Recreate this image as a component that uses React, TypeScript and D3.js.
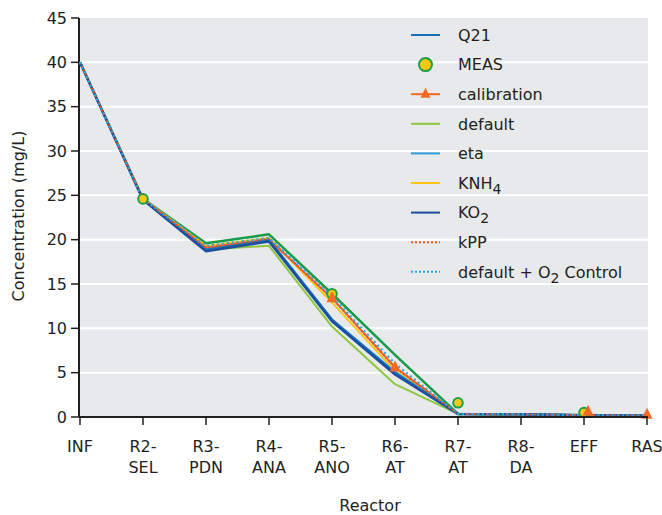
import React from "react";
import * as d3 from "d3";

const categories = ["INF", "R2-SEL", "R3-PDN", "R4-ANA", "R5-ANO", "R6-AT", "R7-AT", "R8-DA", "EFF", "RAS"];
const yTicks = [0, 5, 10, 15, 20, 25, 30, 35, 40, 45];

const upperLine = [40, 24.6, 19.6, 20.6, 13.9, 7.0, 0.35, 0.3, 0.2, 0.15];
const q21 = [40, 24.5, 18.9, 20.0, 11.0, 5.0, 0.35, 0.3, 0.2, 0.15];
const calibration = [40, 24.6, 19.1, 20.0, 13.4, 5.6, 0.35, 0.3, 0.2, 0.15];
const calibrationMarkers = [null, null, null, null, 13.5, 5.7, null, null, 0.7, 0.35];
const defaultS = [40, 24.6, 18.9, 19.3, 10.2, 3.7, 0.35, 0.3, 0.2, 0.15];
const eta = [40, 24.5, 18.9, 20.0, 11.0, 5.1, 0.35, 0.3, 0.2, 0.15];
const knh4 = [40, 24.6, 19.3, 20.2, 12.9, 5.2, 0.35, 0.3, 0.2, 0.15];
const ko2 = [40, 24.5, 18.7, 19.8, 10.8, 4.8, 0.35, 0.3, 0.2, 0.15];
const kpp = [40, 24.6, 19.1, 20.1, 13.4, 5.6, 0.35, 0.3, 0.2, 0.15];
const defaultO2 = [40, 24.6, 19.3, 20.2, 13.6, 6.0, 0.35, 0.3, 0.2, 0.15];
const meas = [null, 24.6, null, null, 13.9, null, 1.6, null, 0.5, null];

const W = 662, H = 515;
const left = 79, right = 648, top = 18, bottom = 417;
const FONT = "'DejaVu Sans', sans-serif";
const TXT = "#231f20";

type Series = { name: string; data: (number | null)[]; color: string; width: number; dash?: string };

export default function App() {
  const x = d3.scalePoint<string>().domain(categories).range([80, 647]);
  const y = d3.scaleLinear().domain([0, 45]).range([bottom, top]);
  const line = d3
    .line<number | null>()
    .defined((d) => d != null)
    .x((_, i) => x(categories[i]) as number)
    .y((d) => y(d as number));

  const series: Series[] = [
    { name: "default", data: defaultS, color: "#8dc63f", width: 2 },
    { name: "upper", data: upperLine, color: "#1a9b4b", width: 2.5 },
    { name: "KNH4", data: knh4, color: "#fdc315", width: 2 },
    { name: "calibration", data: calibration, color: "#f26a21", width: 2 },
    { name: "eta", data: eta, color: "#27a0d9", width: 2 },
    { name: "Q21", data: q21, color: "#1b70b8", width: 2 },
    { name: "KO2", data: ko2, color: "#1c4f9e", width: 2.5 },
    { name: "kPP", data: kpp, color: "#ef4f23", width: 2, dash: "2,2" },
    { name: "defaultO2", data: defaultO2, color: "#29a8e0", width: 2.2, dash: "2,3" },
  ];

  const legendY0 = 35, legendStep = 29.6;
  const lx1 = 411, lx2 = 440, tx = 458;
  const legendItems: { kind: string; color: string; dash?: string; label: React.ReactNode }[] = [
    { kind: "line", color: "#1b70b8", label: "Q21" },
    { kind: "circle", color: "#fcc616", label: "MEAS" },
    { kind: "tri", color: "#f26a21", label: "calibration" },
    { kind: "line", color: "#8dc63f", label: "default" },
    { kind: "line", color: "#27a0d9", label: "eta" },
    { kind: "line", color: "#fdc315", label: <>KNH<tspan dy="5" fontSize="14">4</tspan></> },
    { kind: "line", color: "#1c4f9e", label: <>KO<tspan dy="5" fontSize="14">2</tspan></> },
    { kind: "line", color: "#ef4f23", dash: "2,2", label: "kPP" },
    { kind: "line", color: "#29a8e0", dash: "2,2", label: <>default + O<tspan dy="5" fontSize="14">2</tspan><tspan dy="-5"> Control</tspan></> },
  ];

  const tri = (cx: number, cy: number, s = 11) =>
    `M${cx},${cy - s * 0.55} L${cx + s / 2},${cy + s * 0.45} L${cx - s / 2},${cy + s * 0.45} Z`;

  return (
    <svg width={W} height={H} style={{ position: "absolute", left: 0, top: 0, background: "#fff" }} fontFamily={FONT}>
      <rect x={left} y={top} width={right - left} height={bottom - top} fill="#e8e9eb" />
      {yTicks.filter((t) => t > 0 && t < 45).map((t) => (
        <line key={t} x1={left} x2={right} y1={y(t)} y2={y(t)} stroke="#fff" strokeWidth={2} />
      ))}
      <line x1={left} x2={left} y1={top} y2={bottom} stroke={TXT} strokeWidth={2} />
      {yTicks.map((t) => (
        <g key={t}>
          <line x1={left - 8} x2={left} y1={y(t)} y2={y(t)} stroke={TXT} strokeWidth={1.5} />
          <text x={67} y={y(t)} dy="0.36em" textAnchor="end" fontSize={16} fill={TXT}>{t}</text>
        </g>
      ))}
      <text transform={`translate(24,216) rotate(-90)`} textAnchor="middle" fontSize={16} fill={TXT}>
        Concentration (mg/L)
      </text>
      {series.map((s) => (
        <path key={s.name} d={line(s.data) || ""} fill="none" stroke={s.color} strokeWidth={s.width} strokeDasharray={s.dash} strokeLinejoin="round" />
      ))}
      {meas.map((v, i) =>
        v == null ? null : (
          <circle key={"m" + i} cx={x(categories[i])} cy={y(v)} r={4.8} fill="#fcc616" stroke="#1aa14a" strokeWidth={2} />
        )
      )}
      {calibrationMarkers.map((v, i) =>
        v == null ? null : <path key={"c" + i} d={tri((x(categories[i]) as number) + (categories[i] === "EFF" ? 4 : 0), y(v))} fill="#f26a21" />
      )}
      <line x1={left} x2={right} y1={bottom} y2={bottom} stroke={TXT} strokeWidth={2} />
      {categories.map((c) => {
        const parts = c.includes("-") ? [c.split("-")[0] + "-", c.split("-")[1]] : [c];
        const cx = x(c) as number;
        return (
          <g key={c}>
            <line x1={cx} x2={cx} y1={bottom} y2={bottom + 8} stroke={TXT} strokeWidth={1.5} />
            {parts.map((p, j) => (
              <text key={j} x={cx} y={452 + j * 21} textAnchor="middle" fontSize={16} fill={TXT}>{p}</text>
            ))}
          </g>
        );
      })}
      <text x={370} y={511} textAnchor="middle" fontSize={16} fill={TXT}>Reactor</text>
      {legendItems.map((it, i) => {
        const cy = legendY0 + i * legendStep;
        return (
          <g key={i}>
            {it.kind === "line" && (
              <line x1={lx1} x2={lx2} y1={cy} y2={cy} stroke={it.color} strokeWidth={2} strokeDasharray={it.dash} />
            )}
            {it.kind === "circle" && <circle cx={(lx1 + lx2) / 2} cy={cy} r={6.5} fill="#fcc616" stroke="#1aa14a" strokeWidth={2} />}
            {it.kind === "tri" && (
              <g>
                <line x1={lx1} x2={lx2} y1={cy} y2={cy} stroke={it.color} strokeWidth={2} />
                <path d={tri((lx1 + lx2) / 2, cy - 1, 10)} fill={it.color} />
              </g>
            )}
            <text x={tx} y={cy} dy="0.36em" fontSize={16} fill={TXT}>{it.label}</text>
          </g>
        );
      })}
    </svg>
  );
}
